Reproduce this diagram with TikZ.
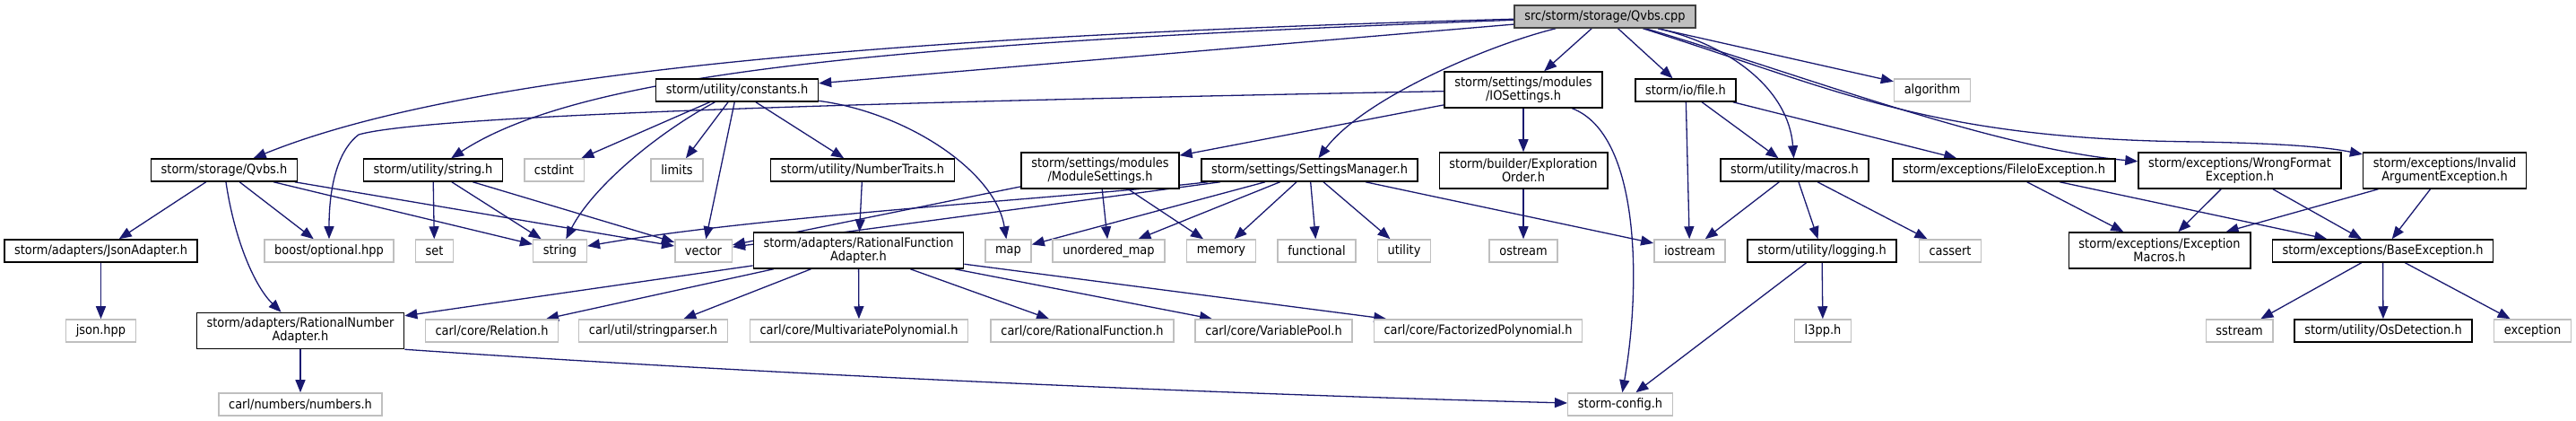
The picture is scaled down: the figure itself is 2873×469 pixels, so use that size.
\documentclass[tikz,border=0pt]{standalone}
\usepackage{fontspec}
\setmainfont{DejaVu Sans}[FakeStretch=0.9]
\usetikzlibrary{arrows.meta}
\pgfdeclarelayer{bg}
\pgfsetlayers{bg,main}
\definecolor{edgeblue}{HTML}{191970}
\definecolor{sysgray}{HTML}{BFBFBF}
\definecolor{rootline}{HTML}{404040}
\tikzset{
  docfile/.style={draw=black, fill=white, rectangle, align=center, line width=0.75pt,
    inner xsep=5.6pt, inner ysep=0pt, minimum height=12.5pt,
    font=\fontsize{7.2pt}{7.5pt}\selectfont},
  sysfile/.style={docfile, draw=sysgray},
  rootfile/.style={docfile, fill=sysgray, draw=rootline},
  twoline/.style={minimum height=20pt},
  incl/.style={draw=edgeblue, line width=0.65pt, -{Triangle[length=7pt,width=5.5pt]}}
}
\begin{document}
\begin{tikzpicture}[x=0.5pt,y=-0.5pt]
\useasboundingbox (0,0) rectangle (2873,469);
% root
\node[rootfile] (cpp) at (1790,18.5) {src/storm/storage/Qvbs.cpp};
% level 1
\node[docfile] (consth) at (822,100.5) {storm/utility/constants.h};
\node[docfile,twoline] (ioset) at (1699,100) {storm/settings/modules\\/IOSettings.h};
\node[docfile] (fileh) at (1880,100.5) {storm/io/file.h};
\node[sysfile] (algo) at (2155,100.5) {algorithm};
% level 2
\node[docfile] (qvbsh) at (250,189.5) {storm/storage/Qvbs.h};
\node[docfile] (strh) at (483,189.5) {storm/utility/string.h};
\node[sysfile] (cstdint) at (618,189.5) {cstdint};
\node[sysfile] (limits) at (755,189.5) {limits};
\node[docfile] (ntraits) at (962,189.5) {storm/utility/NumberTraits.h};
\node[docfile,twoline] (modset) at (1227,190) {storm/settings/modules\\/ModuleSettings.h};
\node[docfile] (setman) at (1460.5,189.5) {storm/settings/SettingsManager.h};
\node[docfile,twoline] (explo) at (1699,190) {storm/builder/Exploration\\Order.h};
\node[docfile] (macros) at (2001.5,189.5) {storm/utility/macros.h};
\node[docfile] (fileio) at (2235,189.5) {storm/exceptions/FileIoException.h};
\node[docfile,twoline] (wrongf) at (2498,190) {storm/exceptions/WrongFormat\\Exception.h};
\node[docfile,twoline] (invarg) at (2726.5,190) {storm/exceptions/Invalid\\ArgumentException.h};
% level 3
\node[docfile] (json) at (112.5,279.5) {storm/adapters/JsonAdapter.h};
\node[sysfile] (boost) at (367,279.5) {boost/optional.hpp};
\node[sysfile] (stdset) at (484.5,279.5) {set};
\node[sysfile] (stdstring) at (624.5,279.5) {string};
\node[sysfile] (stdvector) at (784.5,279.5) {vector};
\node[docfile,twoline] (rfa) at (957.5,279) {storm/adapters/RationalFunction\\Adapter.h};
\node[sysfile] (stdmap) at (1124.5,279.5) {map};
\node[sysfile] (umap) at (1236.5,279.5) {unordered\_map};
\node[sysfile] (memory) at (1362,279.5) {memory};
\node[sysfile] (functional) at (1468.5,279.5) {functional};
\node[sysfile] (utility) at (1566,279.5) {utility};
\node[sysfile] (ostream) at (1699,279.5) {ostream};
\node[sysfile] (iostream) at (1884.5,279.5) {iostream};
\node[docfile] (logging) at (2032,279.5) {storm/utility/logging.h};
\node[sysfile] (cassert) at (2175,279.5) {cassert};
\node[docfile,twoline] (excmac) at (2408.5,279) {storm/exceptions/Exception\\Macros.h};
\node[docfile] (baseexc) at (2657.5,279.5) {storm/exceptions/BaseException.h};
% level 4
\node[sysfile] (jsonhpp) at (112.5,368.5) {json.hpp};
\node[docfile,twoline] (rna) at (335,368.5) {storm/adapters/RationalNumber\\Adapter.h};
\node[sysfile] (relation) at (548.5,368.5) {carl/core/Relation.h};
\node[sysfile] (strparser) at (728.5,368.5) {carl/util/stringparser.h};
\node[sysfile] (multipoly) at (958,368.5) {carl/core/MultivariatePolynomial.h};
\node[sysfile] (ratfun) at (1207,368.5) {carl/core/RationalFunction.h};
\node[sysfile] (varpool) at (1420.5,368.5) {carl/core/VariablePool.h};
\node[sysfile] (factpoly) at (1648.5,368.5) {carl/core/FactorizedPolynomial.h};
\node[sysfile] (l3pp) at (2033,368.5) {l3pp.h};
\node[sysfile] (sstream) at (2497.5,368.5) {sstream};
\node[docfile] (osdet) at (2658,368.5) {storm/utility/OsDetection.h};
\node[sysfile] (exception) at (2824.5,368.5) {exception};
% level 5
\node[sysfile] (numbers) at (335,450.5) {carl/numbers/numbers.h};
\node[sysfile] (config) at (1807,450.5) {storm-config.h};
% includes
\begin{pgfonlayer}{bg}
\draw[incl] (cpp) .. controls (1000,40) and (520,80) .. (qvbsh);
\draw[incl] (cpp) .. controls (1000,48) and (650,80) .. (strh);
\draw[incl] (cpp) -- (consth);
\draw[incl] (cpp) .. controls (1660,50) and (1520,110) .. (setman);
\draw[incl] (cpp) -- (ioset);
\draw[incl] (cpp) -- (fileh);
\draw[incl] (cpp) .. controls (1930,50) and (1995,100) .. (macros);
\draw[incl] (cpp) -- (algo);
\draw[incl] (cpp) .. controls (2000,80) and (2220,165) .. (wrongf);
\draw[incl] (cpp) .. controls (2050,100) and (2150,155) .. (2450,158) .. controls (2560,160) and (2600,165) .. (invarg);
\draw[incl] (consth) -- (cstdint);
\draw[incl] (consth) .. controls (730,150) and (660,210) .. (stdstring);
\draw[incl] (consth) -- (limits);
\draw[incl] (consth) -- (stdvector);
\draw[incl] (consth) -- (ntraits);
\draw[incl] (consth) .. controls (1010,125) and (1110,190) .. (stdmap);
\draw[incl] (ioset) .. controls (900,115) and (470,130) .. (400,150) .. controls (380,165) and (367,200) .. (boost);
\draw[incl] (ioset) -- (modset);
\draw[incl] (ioset) -- (explo);
\draw[incl] (ioset) .. controls (1830,150) and (1830,320) .. (config);
\draw[incl] (fileh) -- (iostream);
\draw[incl] (fileh) -- (macros);
\draw[incl] (fileh) -- (fileio);
\draw[incl] (qvbsh) -- (json);
\draw[incl] (qvbsh) .. controls (262,270) and (285,320) .. (rna);
\draw[incl] (qvbsh) -- (boost);
\draw[incl] (qvbsh) -- (stdstring);
\draw[incl] (qvbsh) -- (stdvector);
\draw[incl] (strh) -- (stdset);
\draw[incl] (strh) -- (stdstring);
\draw[incl] (strh) -- (stdvector);
\draw[incl] (ntraits) -- (rfa);
\draw[incl] (modset) -- (stdvector);
\draw[incl] (modset) -- (umap);
\draw[incl] (modset) -- (memory);
\draw[incl] (setman) .. controls (1200,220) and (850,240) .. (stdstring);
\draw[incl] (setman) -- (stdvector);
\draw[incl] (setman) -- (stdmap);
\draw[incl] (setman) -- (umap);
\draw[incl] (setman) -- (memory);
\draw[incl] (setman) -- (functional);
\draw[incl] (setman) -- (utility);
\draw[incl] (setman) -- (iostream);
\draw[incl] (explo) -- (ostream);
\draw[incl] (macros) -- (iostream);
\draw[incl] (macros) -- (logging);
\draw[incl] (macros) -- (cassert);
\draw[incl] (fileio) -- (excmac);
\draw[incl] (fileio) -- (baseexc);
\draw[incl] (wrongf) -- (excmac);
\draw[incl] (wrongf) -- (baseexc);
\draw[incl] (invarg) -- (excmac);
\draw[incl] (invarg) -- (baseexc);
\draw[incl] (json) -- (jsonhpp);
\draw[incl] (rfa) -- (rna);
\draw[incl] (rfa) -- (relation);
\draw[incl] (rfa) -- (strparser);
\draw[incl] (rfa) -- (multipoly);
\draw[incl] (rfa) -- (ratfun);
\draw[incl] (rfa) -- (varpool);
\draw[incl] (rfa) -- (factpoly);
\draw[incl] (logging) -- (l3pp);
\draw[incl] (logging) -- (config);
\draw[incl] (baseexc) -- (sstream);
\draw[incl] (baseexc) -- (osdet);
\draw[incl] (baseexc) -- (exception);
\draw[incl] (rna) -- (numbers);
\draw[incl] (rna.south east) .. controls (900,420) and (1400,440) .. (config);
\end{pgfonlayer}
\end{tikzpicture}
\end{document}
